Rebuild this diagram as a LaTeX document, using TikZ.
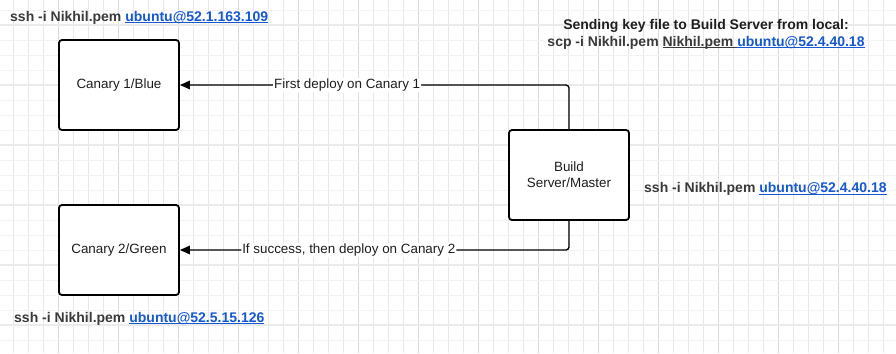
\documentclass[tikz,border=0pt]{standalone}
\usepackage{fontspec}
\setmainfont{Liberation Sans}
\usetikzlibrary{arrows.meta}

\definecolor{gridv}{HTML}{E8E8E8}
\definecolor{gridvmajor}{HTML}{DADADA}
\definecolor{gridh}{HTML}{F3F3F3}
\definecolor{gridhmajor}{HTML}{EBEBEB}
\definecolor{cmdgrey}{HTML}{3A3A3A}
\definecolor{linkblue}{HTML}{1558D0}
\definecolor{inkdark}{HTML}{1E1E1E}

% underlined run of text in the current colour
\newcommand\ulrun[1]{\setbox0\hbox{#1}\rlap{\rule[-1.9bp]{\wd0}{1.1bp}}\box0}
\newcommand\hostlink[1]{{\color{linkblue}\ulrun{#1}}}

\tikzset{
  server/.style={draw=black, line width=1.8bp, rounded corners=3bp, fill=white,
    minimum width=120bp, minimum height=90bp, inner sep=2bp, align=center,
    font=\fontsize{13.4bp}{16bp}\selectfont, text=inkdark},
  flow/.style={draw=black, line width=1.4bp, rounded corners=3bp,
    -{Triangle[length=10bp,width=8.5bp]}},
  flowlabel/.style={fill=white, inner sep=1bp, text=inkdark,
    font=\fontsize{13.4bp}{16bp}\selectfont},
  cmd/.style={inner sep=0pt, text=cmdgrey, font=\fontsize{14bp}{16bp}\bfseries\selectfont},
}

\begin{document}
\begin{tikzpicture}[x=1bp, y=-1bp]
  \useasboundingbox[fill=white] (0,0) rectangle (896,353);

  % background grid
  \foreach \i in {0,...,58} {
    \draw[gridv, line width=1bp] (13.33+15*\i,0) -- (13.33+15*\i,353);
  }
  \foreach \i in {0,...,14} {
    \draw[gridvmajor, line width=1.2bp] (58.33+60*\i,0) -- (58.33+60*\i,353);
  }
  \foreach \j in {0,...,22} {
    \draw[gridh, line width=1bp] (0,10+15*\j) -- (896,10+15*\j);
  }
  \foreach \j in {0,...,5} {
    \draw[gridhmajor, line width=1.2bp] (0,25+60*\j) -- (896,25+60*\j);
  }

  % servers
  \node[server] (canary1) at (119,85) {Canary 1/Blue};
  \node[server] (canary2) at (119,250) {Canary 2/Green};
  \node[server] (build) at (569,175) {Build\\Server/Master};

  % deployment flow
  \draw[flow] (build.north) |- (canary1.east)
    node[flowlabel, pos=0.785] (lbl1) {First deploy on Canary 1};
  \draw[flow] (build.south) |- (canary2.east)
    node[flowlabel, pos=0.783] (lbl2) {If success, then deploy on Canary 2};

  % access commands
  \node[cmd, anchor=base west] (sshc1) at (10,21.5)
    {ssh -i Nikhil.pem \hostlink{ubuntu@52.1.163.109}};
  \node[cmd, anchor=base west] (sshc2) at (14,322)
    {ssh -i Nikhil.pem \hostlink{ubuntu@52.5.15.126}};
  \node[cmd, anchor=base west] (sshbuild) at (644,192.7)
    {ssh -i Nikhil.pem \hostlink{ubuntu@52.4.40.18}};

  \node[cmd, anchor=base, text=inkdark] (scptitle) at (706,29.3)
    {Sending key file to Build Server from local:};
  \node[cmd, anchor=base] (scpcmd) at (706,46)
    {scp -i Nikhil.pem \ulrun{Nikhil.pem }\hostlink{ubuntu@52.4.40.18}};
\end{tikzpicture}
\end{document}
